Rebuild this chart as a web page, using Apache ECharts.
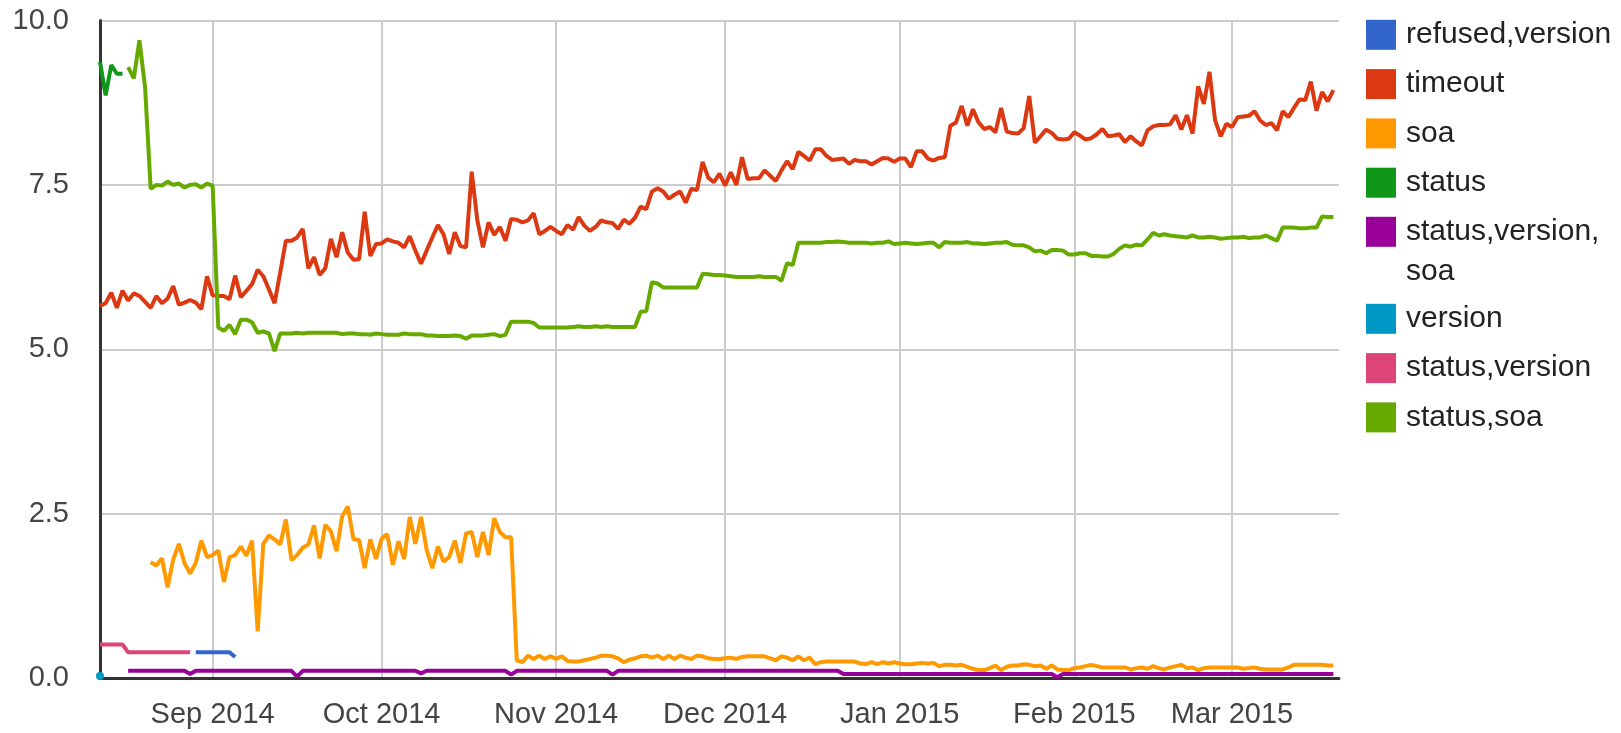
<!DOCTYPE html>
<html>
<head>
<meta charset="utf-8">
<script src="https://cdn.jsdelivr.net/npm/echarts@6/dist/echarts.min.js"></script>
<style>html,body{margin:0;padding:0;background:#fff}#chart{width:1621px;height:733px}</style>
</head>
<body>
<div id="chart"></div>
<script>
// One value per day, starting 12 Aug 2014
const firstDay = [2014, 7, 12];
const dayCount = 220;
const axisStart = [2014, 7, 12];
const axisEnd = [2015, 2, 20];
const monthTicks = [[2014, 8, 1], [2014, 9, 1], [2014, 10, 1], [2014, 11, 1], [2015, 0, 1], [2015, 1, 1], [2015, 2, 1]];
const monthNames = ['Jan', 'Feb', 'Mar', 'Apr', 'May', 'Jun', 'Jul', 'Aug', 'Sep', 'Oct', 'Nov', 'Dec'];
const yTicks = [0, 2.5, 5, 7.5, 10];

const seriesNames = ['refused,version', 'timeout', 'soa', 'status', 'status,version,soa', 'version', 'status,version', 'status,soa'];

const refusedVersion = [null, null, null, null, null, null, null, null, null, null,
  null, null, null, null, null, null, null, 0.39, 0.39, 0.39,
  0.39, 0.39, 0.39, 0.39, 0.32];

const timeout = [
  5.66, 5.70, 5.86, 5.63, 5.89, 5.74, 5.85, 5.81, 5.72, 5.63,
  5.81, 5.70, 5.77, 5.96, 5.68, 5.71, 5.75, 5.71, 5.61, 6.11,
  5.82, 5.81, 5.81, 5.76, 6.12, 5.79, 5.89, 5.99, 6.21, 6.11,
  5.91, 5.70, 6.17, 6.65, 6.65, 6.70, 6.83, 6.23, 6.40, 6.13,
  6.23, 6.68, 6.40, 6.78, 6.47, 6.36, 6.37, 7.09, 6.42, 6.60,
  6.61, 6.67, 6.64, 6.62, 6.55, 6.72, 6.50, 6.30, 6.50, 6.70,
  6.89, 6.75, 6.45, 6.78, 6.57, 6.55, 7.70, 6.96, 6.55, 6.93,
  6.74, 6.86, 6.65, 6.98, 6.97, 6.93, 6.96, 7.07, 6.75, 6.80,
  6.86, 6.80, 6.75, 6.89, 6.82, 7.01, 6.88, 6.80, 6.86, 6.96,
  6.93, 6.92, 6.83, 6.97, 6.91, 7.00, 7.17, 7.13, 7.40, 7.45,
  7.40, 7.29, 7.35, 7.40, 7.23, 7.44, 7.42, 7.85, 7.61, 7.54,
  7.67, 7.49, 7.69, 7.50, 7.92, 7.59, 7.60, 7.60, 7.72, 7.64,
  7.56, 7.72, 7.86, 7.74, 8.00, 7.94, 7.87, 8.04, 8.04, 7.94,
  7.88, 7.89, 7.90, 7.82, 7.88, 7.86, 7.86, 7.81, 7.86, 7.91,
  7.90, 7.85, 7.90, 7.90, 7.77, 8.01, 8.01, 7.90, 7.87, 7.91,
  7.92, 8.40, 8.45, 8.70, 8.40, 8.65, 8.45, 8.35, 8.38, 8.30,
  8.67, 8.31, 8.29, 8.28, 8.36, 8.85, 8.14, 8.24, 8.34, 8.29,
  8.20, 8.19, 8.20, 8.30, 8.25, 8.19, 8.21, 8.27, 8.35, 8.24,
  8.25, 8.27, 8.15, 8.24, 8.16, 8.10, 8.33, 8.39, 8.41, 8.41,
  8.42, 8.56, 8.34, 8.56, 8.28, 9.00, 8.73, 9.22, 8.48, 8.24,
  8.43, 8.38, 8.53, 8.54, 8.55, 8.62, 8.48, 8.41, 8.44, 8.33,
  8.62, 8.53, 8.67, 8.80, 8.79, 9.07, 8.63, 8.91, 8.77, 8.94];

const soa = [
  null, null, null, null, null, null, null, null, null, 1.76,
  1.71, 1.82, 1.38, 1.80, 2.04, 1.75, 1.59, 1.75, 2.09, 1.84,
  1.87, 1.94, 1.46, 1.84, 1.87, 2.00, 1.86, 2.09, 0.71, 2.04,
  2.17, 2.11, 2.03, 2.41, 1.79, 1.87, 1.98, 2.03, 2.32, 1.82,
  2.33, 2.23, 1.93, 2.46, 2.61, 2.11, 2.10, 1.67, 2.11, 1.81,
  2.12, 2.19, 1.72, 2.08, 1.81, 2.45, 2.04, 2.45, 1.95, 1.67,
  2.00, 1.77, 1.84, 2.09, 1.75, 2.20, 2.22, 1.84, 2.22, 1.87,
  2.43, 2.22, 2.14, 2.14, 0.27, 0.24, 0.34, 0.29, 0.34, 0.29,
  0.33, 0.29, 0.33, 0.26, 0.25, 0.25, 0.27, 0.29, 0.31, 0.34,
  0.34, 0.33, 0.30, 0.24, 0.28, 0.30, 0.33, 0.34, 0.31, 0.34,
  0.29, 0.34, 0.29, 0.34, 0.31, 0.29, 0.34, 0.33, 0.30, 0.29,
  0.29, 0.30, 0.31, 0.29, 0.32, 0.33, 0.33, 0.33, 0.33, 0.30,
  0.27, 0.33, 0.31, 0.27, 0.33, 0.27, 0.31, 0.21, 0.24, 0.25,
  0.25, 0.25, 0.25, 0.25, 0.25, 0.22, 0.21, 0.24, 0.21, 0.24,
  0.22, 0.24, 0.22, 0.21, 0.21, 0.22, 0.23, 0.22, 0.23, 0.18,
  0.20, 0.20, 0.19, 0.20, 0.17, 0.14, 0.12, 0.12, 0.15, 0.19,
  0.12, 0.17, 0.19, 0.19, 0.21, 0.20, 0.18, 0.19, 0.14, 0.19,
  0.13, 0.12, 0.12, 0.15, 0.16, 0.18, 0.20, 0.18, 0.16, 0.16,
  0.16, 0.16, 0.16, 0.13, 0.15, 0.16, 0.14, 0.18, 0.15, 0.13,
  0.16, 0.18, 0.20, 0.15, 0.16, 0.12, 0.15, 0.16, 0.16, 0.16,
  0.16, 0.16, 0.16, 0.14, 0.15, 0.16, 0.14, 0.13, 0.13, 0.13,
  0.13, 0.16, 0.20, 0.20, 0.20, 0.20, 0.20, 0.20, 0.19, 0.19];

const status = [9.37, 8.86, 9.32, 9.19, 9.19];

const statusVersionSoa = [
  null, null, null, null, null, 0.11, 0.11, 0.11, 0.11, 0.11,
  0.11, 0.11, 0.11, 0.11, 0.11, 0.11, 0.06, 0.11, 0.11, 0.11,
  0.11, 0.11, 0.11, 0.11, 0.11, 0.11, 0.11, 0.11, 0.11, 0.11,
  0.11, 0.11, 0.11, 0.11, 0.11, 0.02, 0.11, 0.11, 0.11, 0.11,
  0.11, 0.11, 0.11, 0.11, 0.11, 0.11, 0.11, 0.11, 0.11, 0.11,
  0.11, 0.11, 0.11, 0.11, 0.11, 0.11, 0.11, 0.07, 0.11, 0.11,
  0.11, 0.11, 0.11, 0.11, 0.11, 0.11, 0.11, 0.11, 0.11, 0.11,
  0.11, 0.11, 0.11, 0.05, 0.11, 0.11, 0.11, 0.11, 0.11, 0.11,
  0.11, 0.11, 0.11, 0.11, 0.11, 0.11, 0.11, 0.11, 0.11, 0.11,
  0.11, 0.05, 0.11, 0.11, 0.11, 0.11, 0.11, 0.11, 0.11, 0.11,
  0.11, 0.11, 0.11, 0.11, 0.11, 0.11, 0.11, 0.11, 0.11, 0.11,
  0.11, 0.11, 0.11, 0.11, 0.11, 0.11, 0.11, 0.11, 0.11, 0.11,
  0.11, 0.11, 0.11, 0.11, 0.11, 0.11, 0.11, 0.11, 0.11, 0.11,
  0.11, 0.11, 0.06, 0.06, 0.06, 0.06, 0.06, 0.06, 0.06, 0.06,
  0.06, 0.06, 0.06, 0.06, 0.06, 0.06, 0.06, 0.06, 0.06, 0.06,
  0.06, 0.06, 0.06, 0.06, 0.06, 0.06, 0.06, 0.06, 0.06, 0.06,
  0.06, 0.06, 0.06, 0.06, 0.06, 0.06, 0.06, 0.06, 0.06, 0.06,
  0.01, 0.06, 0.06, 0.06, 0.06, 0.06, 0.06, 0.06, 0.06, 0.06,
  0.06, 0.06, 0.06, 0.06, 0.06, 0.06, 0.06, 0.06, 0.06, 0.06,
  0.06, 0.06, 0.06, 0.06, 0.06, 0.06, 0.06, 0.06, 0.06, 0.06,
  0.06, 0.06, 0.06, 0.06, 0.06, 0.06, 0.06, 0.06, 0.06, 0.06,
  0.06, 0.06, 0.06, 0.06, 0.06, 0.06, 0.06, 0.06, 0.06, 0.06];

const version = [0.03];

const statusVersion = [0.51, 0.51, 0.51, 0.51, 0.51, 0.39, 0.39, 0.39, 0.39, 0.39,
  0.39, 0.39, 0.39, 0.39, 0.39, 0.39, 0.39];

const statusSoa = [
  null, null, null, null, null, 9.29, 9.12, 9.70, 8.99, 7.44,
  7.50, 7.49, 7.55, 7.50, 7.52, 7.46, 7.50, 7.51, 7.46, 7.52,
  7.49, 5.33, 5.28, 5.37, 5.23, 5.45, 5.45, 5.41, 5.25, 5.27,
  5.24, 4.97, 5.24, 5.24, 5.24, 5.25, 5.24, 5.25, 5.25, 5.25,
  5.25, 5.25, 5.25, 5.23, 5.24, 5.24, 5.23, 5.23, 5.22, 5.24,
  5.23, 5.22, 5.22, 5.22, 5.24, 5.23, 5.23, 5.23, 5.21, 5.21,
  5.20, 5.20, 5.20, 5.21, 5.20, 5.16, 5.21, 5.21, 5.21, 5.22,
  5.23, 5.20, 5.22, 5.42, 5.42, 5.42, 5.42, 5.40, 5.33, 5.33,
  5.33, 5.33, 5.33, 5.33, 5.34, 5.35, 5.34, 5.34, 5.35, 5.34,
  5.35, 5.34, 5.34, 5.34, 5.34, 5.34, 5.57, 5.58, 6.02, 6.00,
  5.94, 5.94, 5.94, 5.94, 5.94, 5.94, 5.94, 6.15, 6.14, 6.13,
  6.13, 6.12, 6.11, 6.10, 6.10, 6.10, 6.10, 6.11, 6.10, 6.10,
  6.10, 6.04, 6.31, 6.28, 6.62, 6.62, 6.62, 6.62, 6.62, 6.63,
  6.63, 6.64, 6.63, 6.62, 6.62, 6.62, 6.62, 6.61, 6.62, 6.62,
  6.64, 6.60, 6.61, 6.62, 6.61, 6.60, 6.61, 6.62, 6.62, 6.55,
  6.63, 6.62, 6.62, 6.62, 6.63, 6.61, 6.61, 6.60, 6.61, 6.62,
  6.62, 6.63, 6.59, 6.58, 6.58, 6.55, 6.49, 6.50, 6.46, 6.51,
  6.51, 6.50, 6.44, 6.44, 6.46, 6.46, 6.42, 6.42, 6.41, 6.41,
  6.45, 6.53, 6.58, 6.56, 6.59, 6.58, 6.67, 6.77, 6.73, 6.75,
  6.73, 6.72, 6.71, 6.70, 6.73, 6.70, 6.70, 6.71, 6.70, 6.68,
  6.69, 6.70, 6.70, 6.71, 6.69, 6.70, 6.70, 6.73, 6.69, 6.65,
  6.85, 6.85, 6.85, 6.84, 6.84, 6.85, 6.85, 7.02, 7.01, 7.01];

const seriesValues = [refusedVersion, timeout, soa, status, statusVersionSoa, version, statusVersion, statusSoa];
const seriesColors = ['#3366cc', '#dc3912', '#ff9900', '#109618', '#990099', '#0099c6', '#dd4477', '#66aa00'];

// legend groups (the long name wraps onto a second line)
const legendGroupA = ['refused,version', 'timeout', 'soa', 'status'];
const legendGroupW = ['status,version,soa'];
const legendGroupB = ['version', 'status,version', 'status,soa'];

const FONT = '"Liberation Sans", Arial, sans-serif';
const toTime = (d) => new Date(d[0], d[1], d[2]).getTime();
const dates = [];
for (let i = 0; i < dayCount; i++) dates.push(new Date(firstDay[0], firstDay[1], firstDay[2] + i).getTime());
const monthValues = monthTicks.map(toTime);

const legendBase = {
  orient: 'vertical',
  left: 1366,
  padding: 0,
  itemWidth: 30,
  itemHeight: 30,
  itemGap: 10.3,
  icon: 'rect',
  selectedMode: false,
  textStyle: { fontFamily: FONT, fontSize: 30, color: '#222222', lineHeight: 39, padding: [0, 0, 0, 5] }
};

const chart = echarts.init(document.getElementById('chart'), null, { renderer: 'canvas' });
chart.setOption({
  animation: false,
  backgroundColor: '#ffffff',
  grid: { left: 100, right: 282, top: 20.5, bottom: 55, outerBoundsMode: 'none', containLabel: false },
  legend: [
    Object.assign({}, legendBase, { top: 15.3, data: legendGroupA }),
    Object.assign({}, legendBase, {
      top: 171.8,
      data: legendGroupW,
      formatter: () => '\nstatus,version,\nsoa',
      textStyle: Object.assign({}, legendBase.textStyle, { lineHeight: 40 })
    }),
    Object.assign({}, legendBase, { top: 299.3, data: legendGroupB })
  ],
  xAxis: {
    type: 'value',
    min: toTime(axisStart),
    max: toTime(axisEnd),
    axisLine: { show: true, onZero: false, lineStyle: { color: '#333333', width: 3 } },
    axisTick: { show: false, customValues: monthValues },
    splitLine: { show: true, lineStyle: { color: '#cccccc', width: 2 } },
    axisLabel: {
      customValues: monthValues,
      margin: 22.5,
      fontFamily: FONT,
      fontSize: 29,
      color: '#444444',
      hideOverlap: false,
      formatter: (v) => { const d = new Date(v); return monthNames[d.getMonth()] + ' ' + d.getFullYear(); }
    }
  },
  yAxis: {
    type: 'value',
    min: yTicks[0],
    max: yTicks[yTicks.length - 1],
    interval: 2.5,
    axisLine: { show: true, lineStyle: { color: '#333333', width: 3 } },
    axisTick: { show: false },
    splitLine: { show: true, lineStyle: { color: '#cccccc', width: 2 } },
    axisLabel: { margin: 31, fontFamily: FONT, fontSize: 29, color: '#444444', formatter: (v) => v.toFixed(1) }
  },
  series: seriesNames.map((name, k) => ({
    name: name,
    type: 'line',
    data: seriesValues[k].map((v, i) => [dates[i], v == null ? '-' : v]),
    color: seriesColors[k],
    showSymbol: name === 'version',
    symbol: 'circle',
    symbolSize: 8,
    connectNulls: false,
    lineStyle: { width: 4, color: seriesColors[k] },
    itemStyle: { color: seriesColors[k] },
    emphasis: { disabled: true },
    z: 2 + k
  }))
});
</script>
</body>
</html>
